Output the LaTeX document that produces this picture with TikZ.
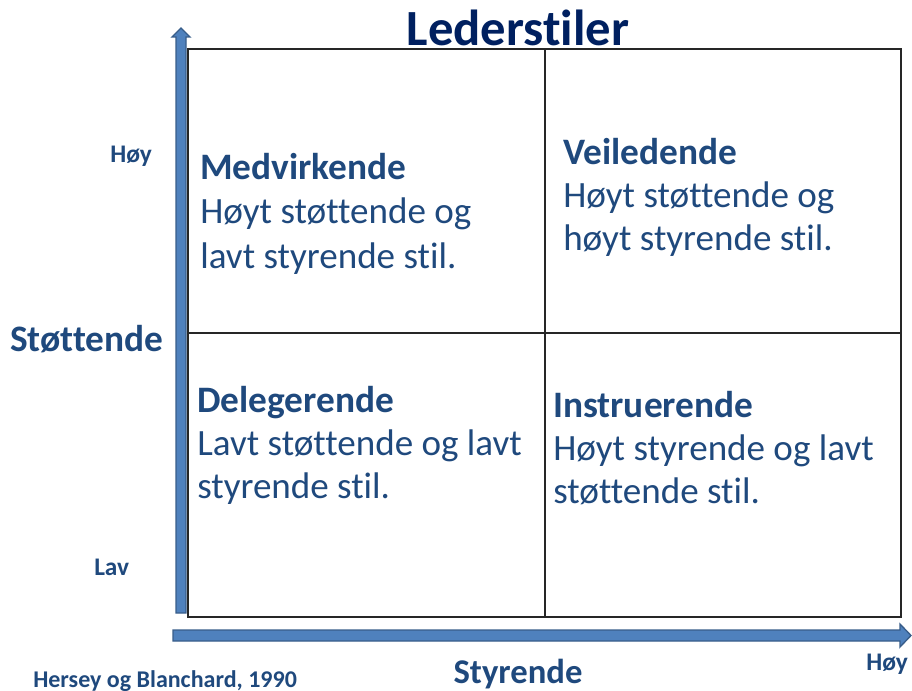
\documentclass[tikz,border=0pt]{standalone}
\usepackage{fontspec}
\setmainfont{Carlito}[Ligatures=NoCommon]
\definecolor{txtblue}{HTML}{1F497D}
\definecolor{navy}{HTML}{002060}
\definecolor{axisfill}{HTML}{4F81BD}
\definecolor{axisline}{HTML}{385D8A}
\tikzset{
	head/.style={anchor=base west,inner sep=0pt,text=txtblue,font=\fontsize{28}{33}\selectfont\bfseries},
	body/.style={anchor=base west,inner sep=0pt,text=txtblue,font=\fontsize{27.8}{33}\selectfont},
	axislabel/.style={inner sep=0pt,text=txtblue,font=\bfseries},
	axisarrow/.style={fill=axisfill,draw=axisline,line width=1pt,line join=miter}
}

\begin{document}
\begin{tikzpicture}[x=0.75pt,y=-0.75pt]
	\useasboundingbox (0,0) rectangle (912,691);
	\pgfmathsetmacro{\xl}{188}		%left edge of grid
	\pgfmathsetmacro{\xm}{545}		%middle column line
	\pgfmathsetmacro{\xr}{901}		%right edge of grid
	\pgfmathsetmacro{\yt}{49}		%top edge of grid
	\pgfmathsetmacro{\ym}{333}		%middle row line
	\pgfmathsetmacro{\yb}{617}		%bottom edge of grid

	%axes
	\filldraw[axisarrow] (176,613) -- (176,37) -- (172,37) -- (181,28) -- (190,37) -- (186,37) -- (186,613) -- cycle;
	\filldraw[axisarrow] (173,630) -- (900,630) -- (900,624) -- (911,635.5) -- (900,647) -- (900,641) -- (173,641) -- cycle;

	%grid
	\draw[black!85,line width=1.1pt] (\xl,\yt) rectangle (\xr,\yb);
	\draw[black!85,line width=1.1pt] (\xm,\yt) -- (\xm,\yb);
	\draw[black!85,line width=1.1pt] (\xl,\ym) -- (\xr,\ym);

	%title
	\node[inner sep=0pt,anchor=base,text=navy,font=\fontsize{38}{40}\selectfont\bfseries] (title) at (518,46) {Lederstiler};

	%quadrants
	\node[head] (medH) at (200,180) {Medvirkende};
	\node[body] (med1) at (200,224) {Høyt støttende og};
	\node[body] (med2) at (200,268) {lavt styrende stil.};

	\node[head] (veiH) at (563,165) {Veiledende};
	\node[body] (vei1) at (563,208) {Høyt støttende og};
	\node[body] (vei2) at (563,251) {høyt styrende stil.};

	\node[head] (delH) at (197,412) {Delegerende};
	\node[body] (del1) at (197,455) {Lavt støttende og lavt};
	\node[body] (del2) at (197,498) {styrende stil.};

	\node[head] (insH) at (553,417) {Instruerende};
	\node[body] (ins1) at (553,460) {Høyt styrende og lavt};
	\node[body] (ins2) at (553,503) {støttende stil.};

	%axis labels
	\node[axislabel,anchor=base west,font=\fontsize{19}{20}\selectfont\bfseries] (yhigh) at (110,163) {Høy};
	\node[axislabel,anchor=base west,font=\fontsize{19}{20}\selectfont\bfseries] (ylow) at (94,575) {Lav};
	\node[axislabel,anchor=base west,font=\fontsize{28}{30}\selectfont\bfseries] (ylab) at (10,351) {Støttende};
	\node[axislabel,anchor=base west,font=\fontsize{19}{20}\selectfont\bfseries] (xhigh) at (866,670) {Høy};
	\node[axislabel,anchor=base,font=\fontsize{26}{28}\selectfont\bfseries] (xlab) at (518,683) {Styrende};
	\node[axislabel,anchor=base west,font=\fontsize{18}{20}\selectfont\bfseries] (source) at (33,687) {Hersey og Blanchard, 1990};
\end{tikzpicture}
\end{document}
